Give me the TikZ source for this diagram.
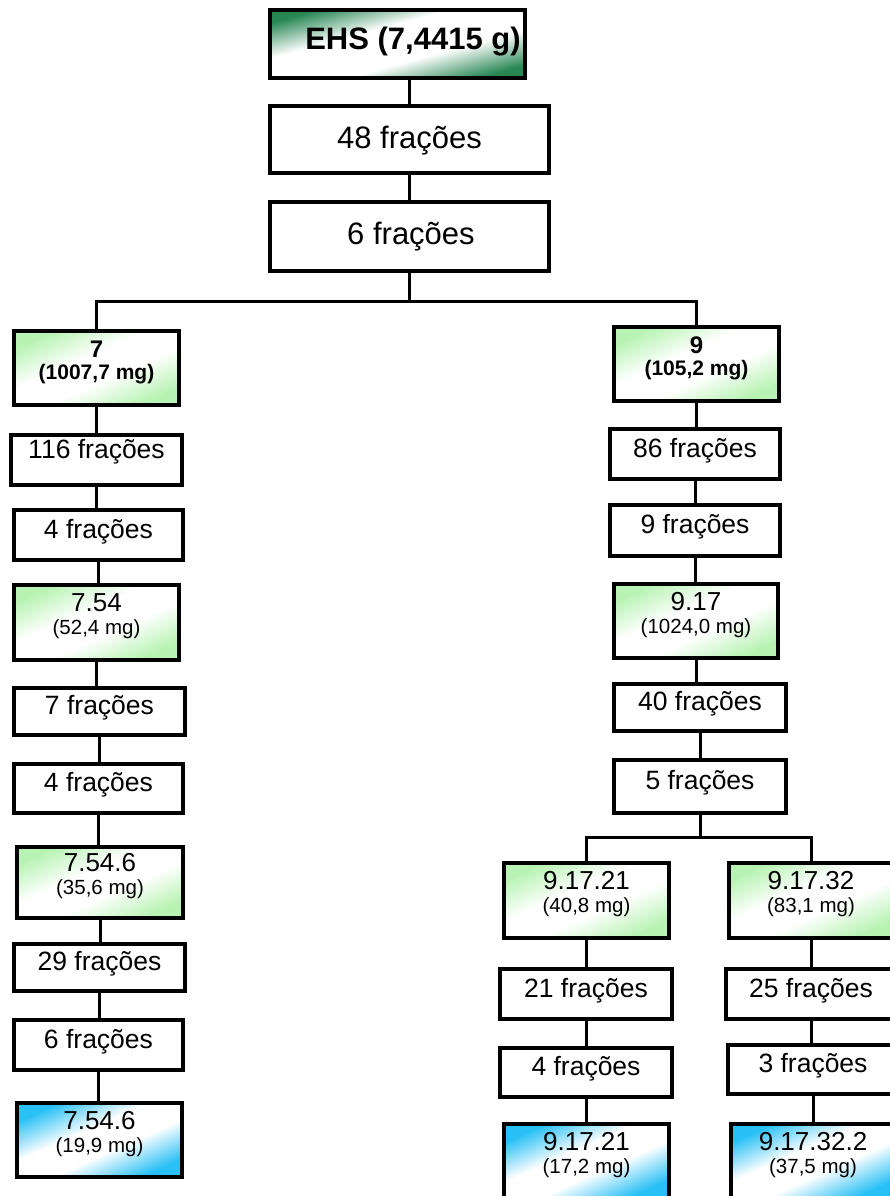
\documentclass[tikz,border=0pt]{standalone}
\usepackage{fontspec}
\setmainfont{Liberation Sans}
\definecolor{lgreen}{RGB}{185,243,180}
\definecolor{dgreen}{RGB}{40,135,85}
\definecolor{lblue}{RGB}{40,192,245}
\pgfdeclareverticalshading{shdg}{100bp}{color(0bp)=(dgreen); color(25bp)=(dgreen); color(41bp)=(white); color(59bp)=(white); color(75bp)=(dgreen); color(100bp)=(dgreen)}
\pgfdeclareverticalshading{shlg}{100bp}{color(0bp)=(lgreen); color(25bp)=(lgreen); color(43bp)=(white); color(57bp)=(white); color(75bp)=(lgreen); color(100bp)=(lgreen)}
\pgfdeclareverticalshading{shlb}{100bp}{color(0bp)=(lblue); color(25bp)=(lblue); color(43bp)=(white); color(57bp)=(white); color(75bp)=(lblue); color(100bp)=(lblue)}
\begin{document}
\begin{tikzpicture}[x=1pt,y=-1pt,
  box/.style={draw=black, line width=4pt, rectangle, inner sep=0pt, fill=white},
  gbox/.style={box, shade, shading=shlg, shading angle=24},
  bbox/.style={box, shade, shading=shlb, shading angle=24},
  dbox/.style={box, shade, shading=shdg, shading angle=15},
  conn/.style={draw=black, line width=3pt},
  tbig/.style={anchor=base, inner sep=0pt, font=\fontsize{31}{36}\selectfont},
  tehs/.style={anchor=base, inner sep=0pt, font=\bfseries\fontsize{31}{36}\selectfont},
  tsm/.style={anchor=base, inner sep=0pt, font=\fontsize{26.5}{30}\selectfont},
  tname/.style={anchor=base, inner sep=0pt, font=\fontsize{26}{30}\selectfont},
  tmass/.style={anchor=base, inner sep=0pt, font=\fontsize{20.5}{24}\selectfont},
  tbname/.style={anchor=base, inner sep=0pt, font=\bfseries\fontsize{24}{28}\selectfont},
  tbmass/.style={anchor=base, inner sep=0pt, font=\bfseries\fontsize{21}{25}\selectfont}
]
\useasboundingbox (0,0) rectangle (890,1196);
\clip (0,0) rectangle (890,1196);

% ---------- boxes ----------
\node[dbox, minimum width=255pt, minimum height=68pt] (ehs) at (397.5,44) {};
\node[box, minimum width=279pt, minimum height=67pt] (b48) at (409.5,139.5) {};
\node[box, minimum width=279pt, minimum height=69pt] (b6) at (409.5,236.5) {};

\node[gbox, minimum width=165pt, minimum height=74pt] (n7) at (96.5,368) {};
\node[box, minimum width=171pt, minimum height=50pt] (l116) at (96.5,460) {};
\node[box, minimum width=169pt, minimum height=50pt] (l4a) at (98.5,535) {};
\node[gbox, minimum width=165pt, minimum height=75pt] (n754) at (96.5,622.5) {};
\node[box, minimum width=171pt, minimum height=47pt] (l7) at (99.5,711.5) {};
\node[box, minimum width=169pt, minimum height=49pt] (l4b) at (98.5,788.5) {};
\node[gbox, minimum width=166pt, minimum height=71pt] (n7546) at (100,882.5) {};
\node[box, minimum width=171pt, minimum height=47pt] (l29) at (99.5,967.5) {};
\node[box, minimum width=169pt, minimum height=50pt] (l6) at (98.5,1045) {};
\node[bbox, minimum width=165pt, minimum height=74pt] (n7546b) at (99.5,1140) {};

\node[gbox, minimum width=165pt, minimum height=74pt] (n9) at (696.5,364) {};
\node[box, minimum width=170pt, minimum height=50pt] (r86) at (695,454) {};
\node[box, minimum width=170pt, minimum height=51pt] (r9) at (695,530.5) {};
\node[gbox, minimum width=164pt, minimum height=74pt] (n917) at (696,621) {};
\node[box, minimum width=172pt, minimum height=47pt] (r40) at (700,707.5) {};
\node[box, minimum width=172pt, minimum height=53pt] (r5) at (700,786.5) {};
\node[gbox, minimum width=165pt, minimum height=75pt] (n91721) at (586.5,900.5) {};
\node[gbox, minimum width=165pt, minimum height=75pt] (n91732) at (811,900.5) {};
\node[box, minimum width=172pt, minimum height=50pt] (r21) at (586,994) {};
\node[box, minimum width=170pt, minimum height=50pt] (r25) at (811,994) {};
\node[box, minimum width=172pt, minimum height=49pt] (r4) at (586,1072.5) {};
\node[box, minimum width=170pt, minimum height=49pt] (r3) at (813,1069.5) {};
\node[bbox, minimum width=165pt, minimum height=74pt] (n91721b) at (586.5,1161) {};
\node[bbox, minimum width=165pt, minimum height=74pt] (n917322) at (813,1161) {};

% ---------- texts ----------
\node[tehs] (tehs) at (413,49.5) {EHS (7,4415 g)};
\node[tbig] (t48) at (409.5,149) {48 frações};
\node[tbig] (t6) at (411,244) {6 frações};

\node[tbname] (t7a) at (96.5,357) {7};
\node[tbmass] (t7b) at (96.5,379) {(1007,7 mg)};
\node[tsm] (t116) at (96.5,458) {116 frações};
\node[tsm] (t4a) at (98.5,538) {4 frações};
\node[tname] (t754a) at (96.5,611.5) {7.54};
\node[tmass] (t754b) at (96.5,634.5) {(52,4 mg)};
\node[tsm] (t7f) at (99.5,714.5) {7 frações};
\node[tsm] (t4b) at (98.5,791.5) {4 frações};
\node[tname] (t7546a) at (100,871.5) {7.54.6};
\node[tmass] (t7546b) at (100,894.5) {(35,6 mg)};
\node[tsm] (t29) at (99.5,970.5) {29 frações};
\node[tsm] (t6b) at (98.5,1048) {6 frações};
\node[tname] (t7546c) at (99.5,1129) {7.54.6};
\node[tmass] (t7546d) at (99.5,1152) {(19,9 mg)};

\node[tbname] (t9a) at (696.5,353) {9};
\node[tbmass] (t9b) at (696.5,375) {(105,2 mg)};
\node[tsm] (t86) at (695,457) {86 frações};
\node[tsm] (t9f) at (695,533.5) {9 frações};
\node[tname] (t917a) at (696,610) {9.17};
\node[tmass] (t917b) at (696,633) {(1024,0 mg)};
\node[tsm] (t40) at (700,710.5) {40 frações};
\node[tsm] (t5) at (700,789.5) {5 frações};
\node[tname] (t91721a) at (586.5,889.5) {9.17.21};
\node[tmass] (t91721b) at (586.5,912.5) {(40,8 mg)};
\node[tname] (t91732a) at (811,889.5) {9.17.32};
\node[tmass] (t91732b) at (811,912.5) {(83,1 mg)};
\node[tsm] (t21) at (586,997) {21 frações};
\node[tsm] (t25) at (811,997) {25 frações};
\node[tsm] (t4r) at (586,1075.5) {4 frações};
\node[tsm] (t3r) at (813,1072.5) {3 frações};
\node[tname] (t91721c) at (586.5,1150) {9.17.21};
\node[tmass] (t91721d) at (586.5,1173) {(17,2 mg)};
\node[tname] (t917322a) at (813,1150) {9.17.32.2};
\node[tmass] (t917322b) at (813,1173) {(37,5 mg)};

% ---------- connectors ----------
\coordinate (jT) at (0,301);
\coordinate (jS) at (0,837);
\draw[conn] (b48.north |- ehs.south) -- (b48.north);
\draw[conn] (b48.south) -- (b6.north);
\draw[conn] (b6.south) -- (b6.south |- jT);
\draw[conn] (n7.north) |- (n9.north |- jT) -- (n9.north);

\draw[conn] (n7.south) -- (n7.south |- l116.north);
\draw[conn] (l116.south) -- (l116.south |- l4a.north);
\draw[conn] (l4a.south) -- (l4a.south |- n754.north);
\draw[conn] (n754.south) -- (n754.south |- l7.north);
\draw[conn] (l7.south) -- (l7.south |- l4b.north);
\draw[conn] (l4b.south) -- (l4b.south |- n7546.north);
\draw[conn] (n7546.south) -- (n7546.south |- l29.north);
\draw[conn] (l29.south) -- (l29.south |- l6.north);
\draw[conn] (l6.south) -- (l6.south |- n7546b.north);

\draw[conn] (n9.south) -- (n9.south |- r86.north);
\draw[conn] (r86.south) -- (r86.south |- r9.north);
\draw[conn] (r9.south) -- (r9.south |- n917.north);
\draw[conn] (n917.south) -- (n917.south |- r40.north);
\draw[conn] (r40.south) -- (r40.south |- r5.north);
\draw[conn] (r5.south) -- (r5.south |- jS);
\draw[conn] (n91721.north) |- (n91732.north |- jS) -- (n91732.north);

\draw[conn] (n91721.south) -- (n91721.south |- r21.north);
\draw[conn] (r21.south) -- (r21.south |- r4.north);
\draw[conn] (r4.south) -- (r4.south |- n91721b.north);
\draw[conn] (n91732.south) -- (n91732.south |- r25.north);
\draw[conn] (r25.south) -- (r25.south |- r3.north);
\draw[conn] (r3.south) -- (r3.south |- n917322.north);
\end{tikzpicture}
\end{document}
